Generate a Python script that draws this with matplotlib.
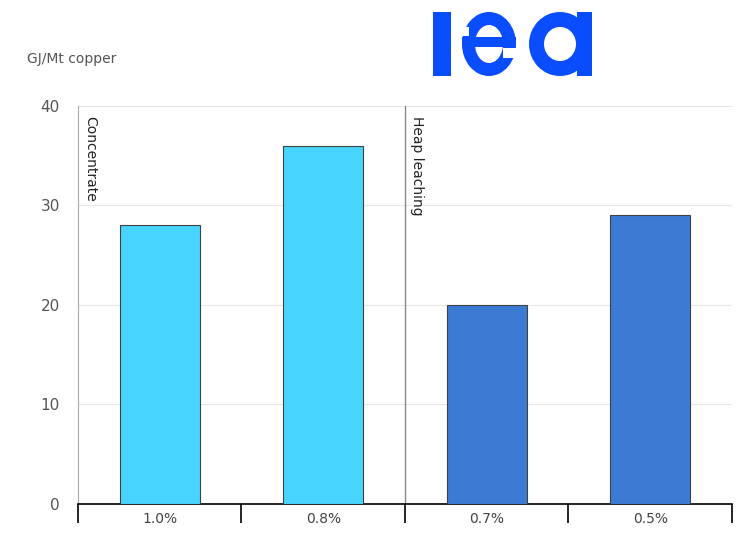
import matplotlib.pyplot as plt
from matplotlib.patches import Rectangle, Annulus

grades = ["1.0%", "0.8%", "0.7%", "0.5%"]
energy = [28, 36, 20, 29]
groups = ["Concentrate", "Heap leaching"]
group_start = [0, 2]
colors = ["#47D4FF", "#47D4FF", "#3C7BD4", "#3C7BD4"]

fig = plt.figure(figsize=(7.44, 5.33), dpi=100)
ax = fig.add_axes([0.1048, 0.0544, 0.8790, 0.7470])

x = list(range(len(grades)))
ax.bar(x, energy, width=0.49, color=colors, edgecolor="#404040", linewidth=0.8, zorder=3)

ax.set_xlim(-0.5, len(grades) - 0.5)
ax.set_ylim(0, 40)
ax.set_yticks([0, 10, 20, 30, 40])
ax.yaxis.grid(True, color="#e6e6e6", linewidth=0.8, zorder=0)
ax.tick_params(axis="y", length=0, pad=13, labelsize=11, labelcolor="#555555")

# category boundaries as ticks on the bottom axis
ax.set_xticks([i - 0.5 for i in range(len(grades) + 1)])
ax.set_xticklabels([])
ax.set_xticks(x, minor=True)
ax.set_xticklabels(grades, minor=True, fontsize=10, color="#444444")
ax.tick_params(axis="x", which="major", length=14, width=1.2, color="black")
ax.tick_params(axis="x", which="minor", length=0, pad=6)

for s in ["top", "right"]:
    ax.spines[s].set_visible(False)
ax.spines["left"].set_color("#aaaaaa")
ax.spines["left"].set_linewidth(0.8)
ax.spines["bottom"].set_linewidth(1.2)

for name, st in zip(groups, group_start):
    if st > 0:
        ax.axvline(st - 0.5, color="#888888", linewidth=1, zorder=2)
    ax.text(st - 0.5 + 0.03, 39.0, name, rotation=-90, va="top", ha="left",
            fontsize=10, color="#222222")

fig.text(0.036, 0.89, "GJ/Mt copper", fontsize=10, color="#555555", va="center")

# iea logo, drawn in pixel units
logo = fig.add_axes([430 / 744, 1 - 80 / 533, 170 / 744, 75 / 533])
logo.set_xlim(430, 600)
logo.set_ylim(80, 5)
logo.axis("off")
blue = "#0A4DFF"
logo.add_patch(Rectangle((433, 12), 18, 64, color=blue, lw=0))
# e
logo.add_patch(Annulus((489, 44), (27, 32), 13, color=blue, lw=0))
logo.add_patch(Rectangle((462, 37), 54, 10, color=blue, lw=0))
logo.add_patch(Rectangle((503, 48), 15, 10, color="white", lw=0))
logo.add_patch(Rectangle((460, 27), 9, 9, color="white", lw=0))
# a
logo.add_patch(Annulus((560, 44), (31, 32), 15, color=blue, lw=0))
logo.add_patch(Rectangle((577, 12), 15, 64, color=blue, lw=0))

fig.savefig("out.png", dpi=100)
